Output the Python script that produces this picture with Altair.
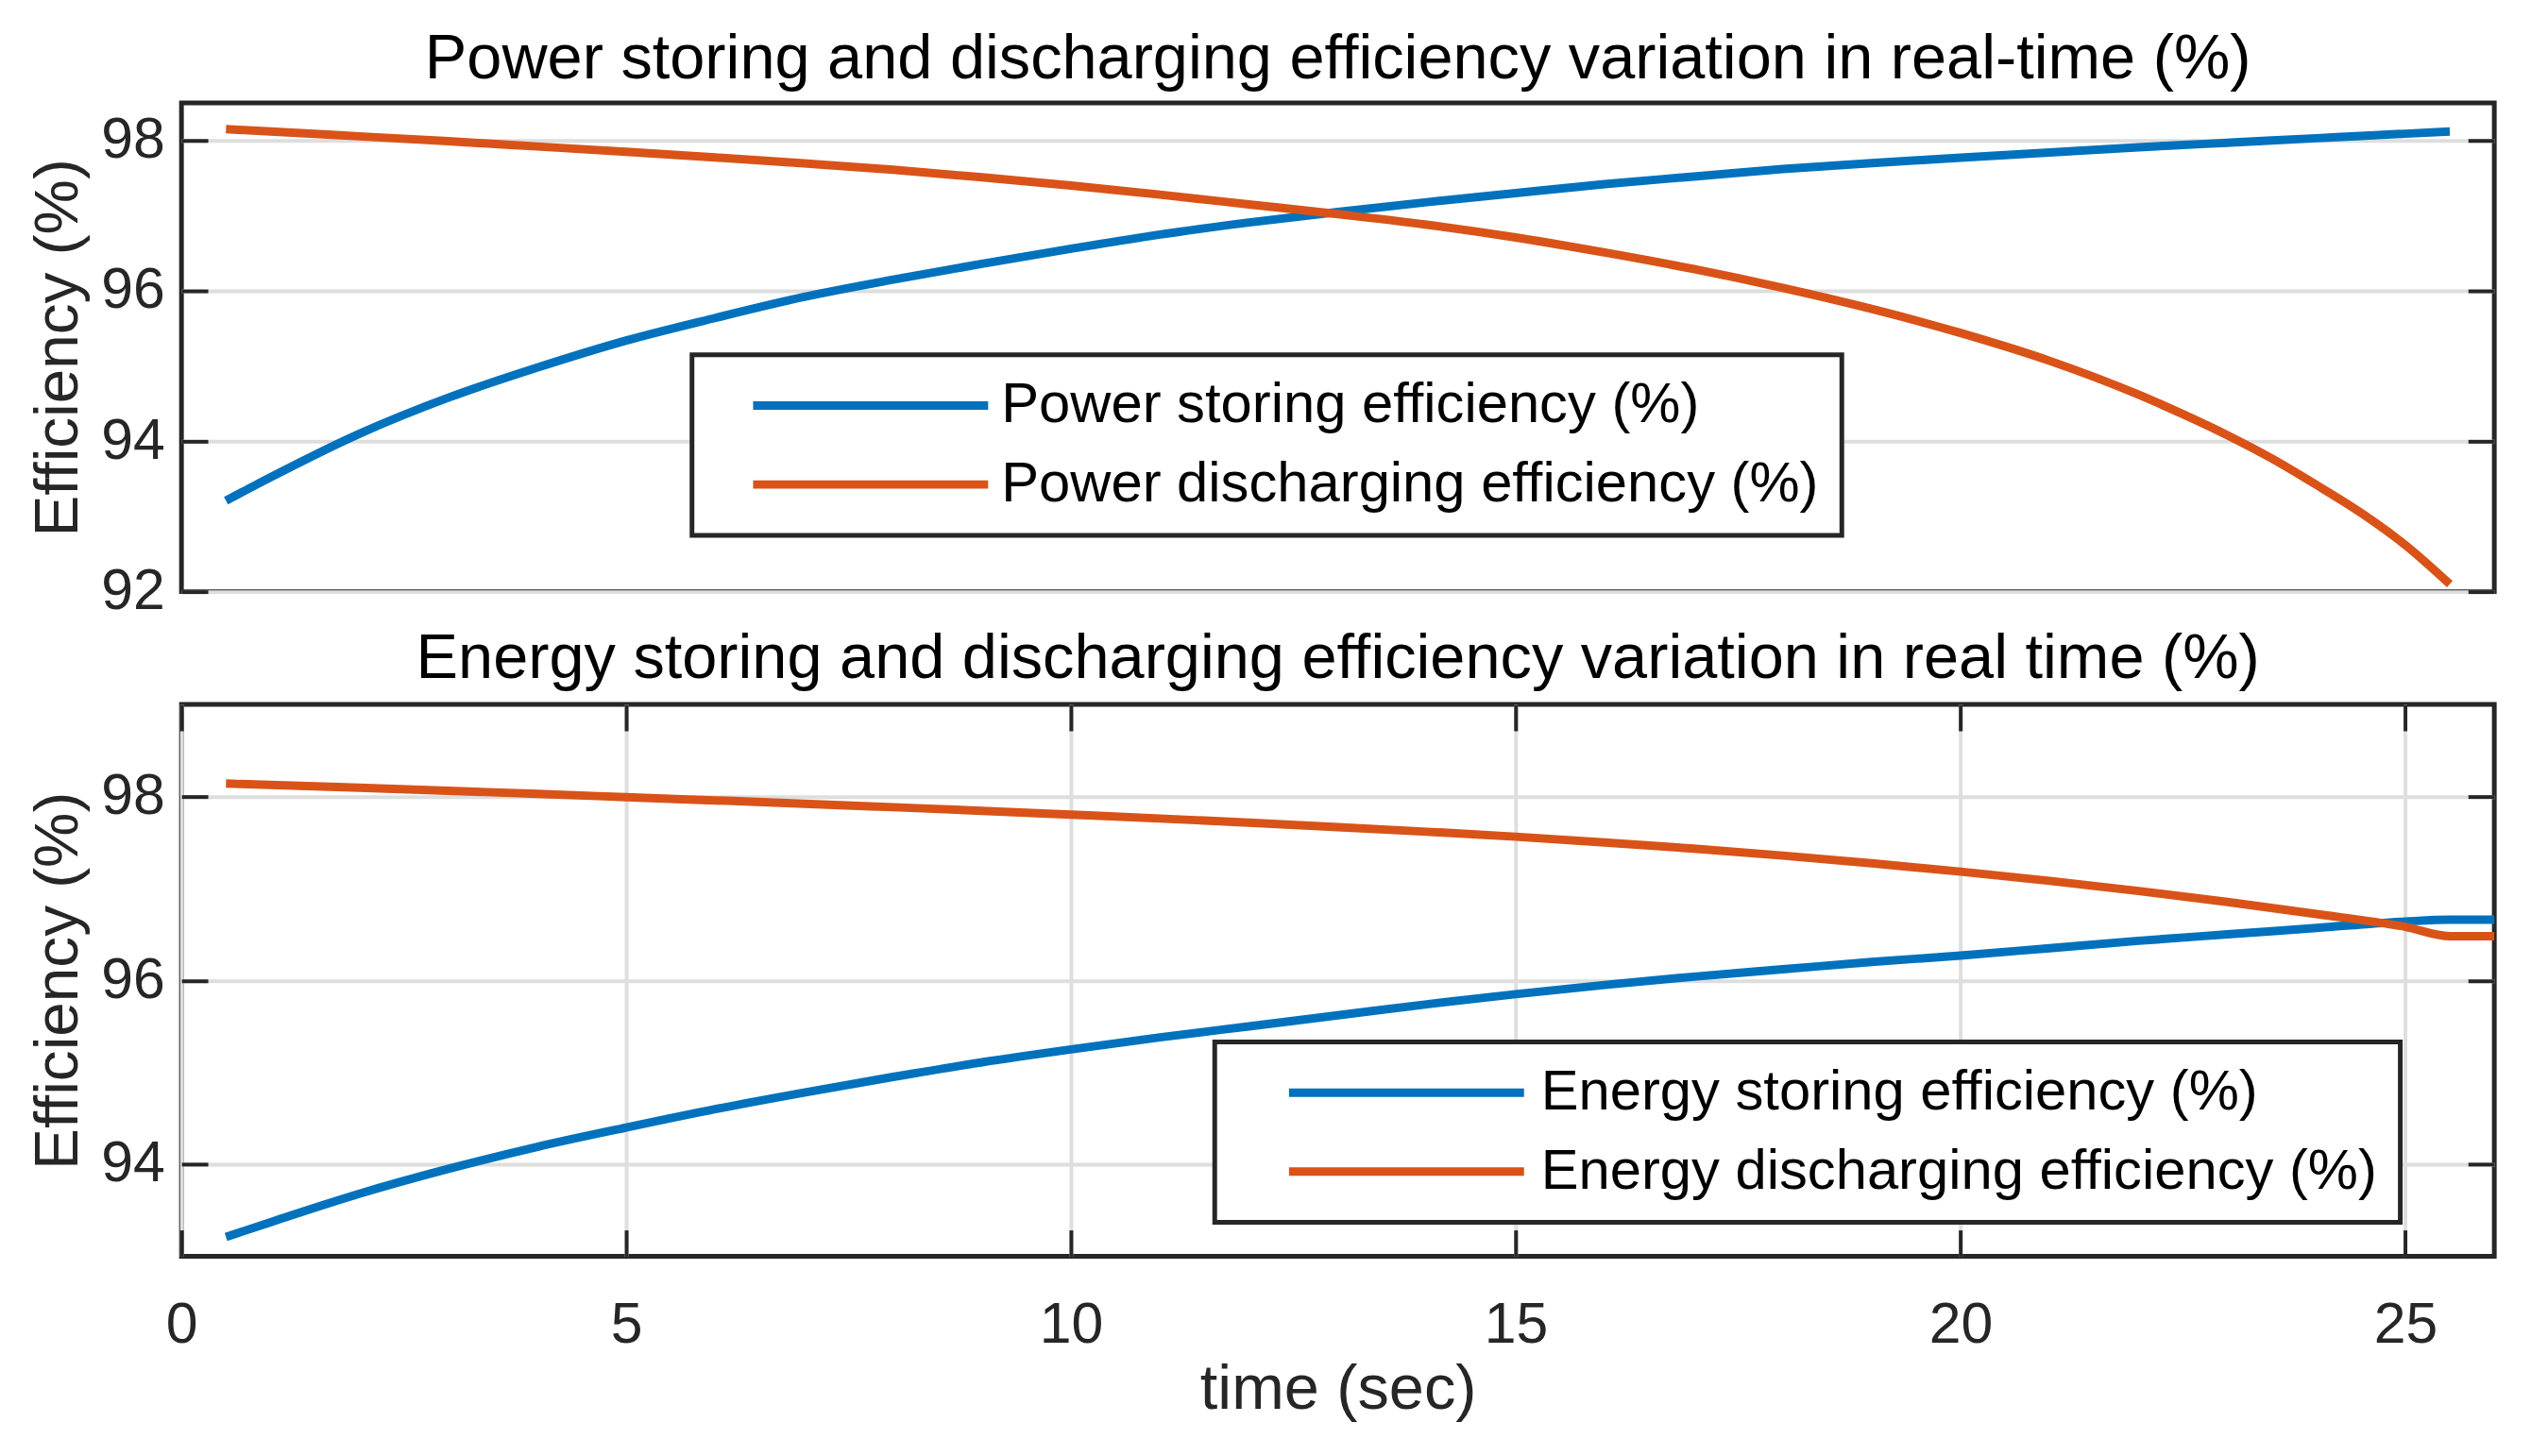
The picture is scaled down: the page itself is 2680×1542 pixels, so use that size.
import altair as alt
import pandas as pd

FONT = "Liberation Sans"
BLUE = "#0072BD"
ORANGE = "#D95319"
INK = "#262626"
GRID = "#dedede"

# ---- data ----
time_power = [0.5, 1, 2, 3, 4, 5, 6, 7, 8, 9, 10, 11, 12, 13, 14, 15, 16, 17, 18,
              19, 20, 21, 22, 22.5, 23, 23.5, 24, 24.5, 25, 25.5]
power_storing = [93.21, 93.52, 94.10, 94.58, 94.98, 95.34, 95.64, 95.92, 96.15, 96.36,
                 96.56, 96.75, 96.91, 97.05, 97.18, 97.30, 97.42, 97.52, 97.62, 97.70,
                 97.77, 97.84, 97.91, 97.94, 97.97, 98.00, 98.03, 98.06, 98.09, 98.12]
power_discharging = [98.15, 98.12, 98.055, 97.99, 97.92, 97.85, 97.775, 97.695, 97.61, 97.51,
                     97.40, 97.28, 97.15, 97.02, 96.88, 96.71, 96.51, 96.29, 96.04, 95.76,
                     95.44, 95.07, 94.62, 94.36, 94.08, 93.77, 93.42, 93.05, 92.62, 92.10]

time_energy = [0.5, 1, 2, 3, 4, 5, 6, 7, 8, 9, 10, 11, 12, 13, 14, 15, 16, 17, 18,
               19, 20, 21, 22, 23, 24, 25, 25.5, 26]
energy_storing = [93.21, 93.37, 93.68, 93.95, 94.19, 94.40, 94.60, 94.78, 94.95, 95.11,
                  95.25, 95.38, 95.50, 95.62, 95.74, 95.85, 95.95, 96.04, 96.12, 96.20,
                  96.27, 96.35, 96.43, 96.50, 96.57, 96.64, 96.66, 96.66]
energy_discharging = [98.14, 98.125, 98.094, 98.062, 98.028, 97.992, 97.957, 97.921, 97.883,
                      97.844, 97.802, 97.760, 97.715, 97.667, 97.616, 97.562, 97.500, 97.432,
                      97.357, 97.274, 97.182, 97.082, 96.972, 96.852, 96.722, 96.582, 96.48,
                      96.48]

names_power = ["Power storing efficiency (%)", "Power discharging efficiency (%)"]
names_energy = ["Energy storing efficiency (%)", "Energy discharging efficiency (%)"]

title_power = "Power storing and discharging efficiency variation in real-time (%)"
title_energy = "Energy storing and discharging efficiency variation in real time (%)"

x_ticks = [0, 5, 10, 15, 20, 25]
y_ticks_power = [92, 94, 96, 98]
y_ticks_energy = [94, 96, 98]


def long_table(times, a, b, names):
    rows = []
    for i, (t, v) in enumerate(zip(times, a)):
        rows.append({"t": t, "v": v, "s": names[0], "o": i})
    for i, (t, v) in enumerate(zip(times, b)):
        rows.append({"t": t, "v": v, "s": names[1], "o": i})
    return pd.DataFrame(rows)


def panel(df, names, title, ydomain, yticks, height, show_x, lx, ly, sym_path, lab_off):
    W = 2460
    xscale = alt.Scale(domain=[0, 26], nice=False, zero=False)
    yscale = alt.Scale(domain=ydomain, nice=False, zero=False)

    y_left = alt.Axis(values=yticks, offset=-28, tickSize=28, tickWidth=4, tickColor=INK,
                      domain=False, grid=True, gridColor=GRID, gridWidth=4,
                      labelFont=FONT, labelFontSize=61, labelColor=INK, labelPadding=18,
                      labelFlush=False,
                      title="Efficiency (%)", titleFont=FONT, titleFontSize=66,
                      titleFontWeight="normal", titleColor=INK, titlePadding=11)
    y_right = alt.Axis(orient="right", values=yticks, offset=-28, tickSize=28, tickWidth=4,
                       tickColor=INK, domain=False, grid=False, labels=False, title=None)
    if show_x:
        x_bottom = alt.Axis(values=x_ticks, offset=-28, tickSize=28, tickWidth=4, tickColor=INK,
                            domain=False, grid=True, gridColor=GRID, gridWidth=4,
                            labelFont=FONT, labelFontSize=61, labelColor=INK, labelPadding=43,
                            labelFlush=False,
                            title="time (sec)", titleFont=FONT, titleFontSize=67,
                            titleFontWeight="normal", titleColor=INK, titlePadding=6)
        x_top = alt.Axis(orient="top", values=x_ticks, offset=-28, tickSize=28, tickWidth=4,
                         tickColor=INK, domain=False, grid=False, labels=False, title=None)
    else:
        x_bottom = None
        x_top = None

    lines = alt.Chart(df).mark_line(strokeWidth=9, interpolate="monotone").encode(
        x=alt.X("t:Q", scale=xscale, axis=x_bottom),
        y=alt.Y("v:Q", scale=yscale, axis=y_left),
        order=alt.Order("o:Q"),
        color=alt.Color(
            "s:N",
            scale=alt.Scale(domain=names, range=[BLUE, ORANGE]),
            legend=alt.Legend(
                title=None, orient="none", legendX=lx, legendY=ly, direction="vertical",
                symbolType=sym_path, symbolSize=2500, symbolStrokeWidth=9,
                labelFont=FONT, labelFontSize=60, labelColor="black", labelLimit=4000,
                labelOffset=lab_off, padding=24, rowPadding=24,
                strokeColor=INK, fillColor="white",
            ),
        ),
    )
    ghost = alt.Chart(df).mark_point(opacity=0).encode(
        x=alt.X("t:Q", scale=xscale, axis=x_top),
        y=alt.Y("v:Q", scale=yscale, axis=y_right),
    )
    return (
        alt.layer(lines, ghost)
        .resolve_axis(x="independent", y="independent")
        .properties(
            width=W, height=height,
            title=alt.TitleParams(title, font=FONT, fontSize=67, fontWeight="normal",
                                  color="black", offset=12, anchor="middle"),
        )
    )


df_power = long_table(time_power, power_storing, power_discharging, names_power)
df_energy = long_table(time_energy, energy_storing, energy_discharging, names_energy)

top = panel(df_power, names_power, title_power, [92, 98.5], y_ticks_power, 520, False,
            543, 268, "M0.44,0H10.44", 245)
bottom = panel(df_energy, names_energy, title_energy, [93, 99], y_ticks_energy, 587, True,
               1099, 359, "M1,0H11", 263)

chart = (
    alt.vconcat(top, bottom, spacing=2)
    .resolve_scale(x="independent", y="independent", color="independent")
    .resolve_legend(color="independent")
    .properties(padding={"left": 18, "top": 15, "right": 10, "bottom": 10},
                background="white")
    .configure_view(stroke=INK, strokeWidth=5)
    .configure_legend(strokeWidth=5)
)

chart.save("out.html", embed_options={"renderer": "svg", "actions": False})
